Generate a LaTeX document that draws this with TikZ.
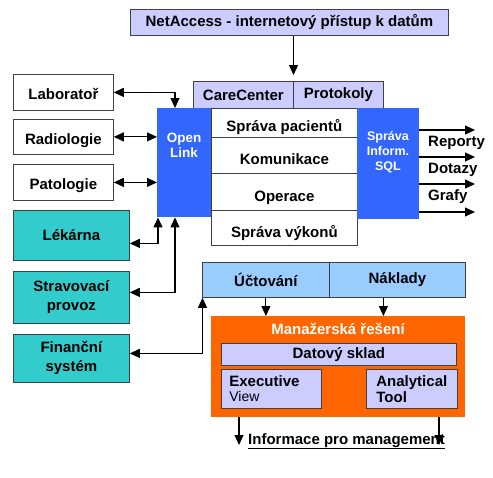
\documentclass[tikz,border=0pt]{standalone}
\usepackage{fontspec}
\setmainfont{Liberation Sans}
\usetikzlibrary{arrows.meta}
\definecolor{lav}{HTML}{CCCCFF}
\definecolor{olblue}{HTML}{3366FF}
\definecolor{teal2}{HTML}{33CCCC}
\definecolor{lblue}{HTML}{99CCFF}
\definecolor{orng}{HTML}{FF6600}
\begin{document}
\begin{tikzpicture}[x=1pt,y=-1pt,
  bx/.style={draw=black!75, line width=0.8pt, inner sep=0pt, anchor=north west,
    font=\fontsize{15}{19}\selectfont\bfseries, align=center},
  low/.style={text height=#1, text depth=0pt},
  blu/.style={fill=olblue, inner sep=0pt, anchor=north west},
  wtxt/.style={text=white, align=center, inner sep=0pt},
  lbl/.style={font=\fontsize{15}{19}\selectfont\bfseries, inner sep=0pt},
  arr/.style={line width=1.1pt, -{Triangle[length=10pt,width=9pt]}},
  darr/.style={line width=1.1pt, {Triangle[length=10pt,width=9pt]}-{Triangle[length=10pt,width=9pt]}},
]
\useasboundingbox[fill=white] (0,0) rectangle (493,477);

% top
\node[bx, fill=lav, minimum width=318pt, minimum height=26pt] (net) at (130,9) {NetAccess - internetový přístup k datům};
\node[bx, fill=lav, minimum width=100pt, minimum height=27pt] (care) at (193,81) {CareCenter};
\node[bx, fill=lav, minimum width=90pt, minimum height=27pt] (prot) at (293,81) {Protokoly};

% middle rows
\node[bx, low=18pt, fill=white, minimum width=146pt, minimum height=29pt] (r1) at (211,108) {Správa pacientů};
\node[bx, low=18.5pt, fill=white, minimum width=146pt, minimum height=36pt] (r2) at (211,137) {Komunikace};
\node[bx, low=18.5pt, fill=white, minimum width=146pt, minimum height=37pt] (r3) at (211,173) {Operace};
\node[bx, low=18.5pt, fill=white, minimum width=146pt, minimum height=35pt] (r4) at (211,210) {Správa výkonů};

% blue blocks
\node[blu, minimum width=54pt, minimum height=109pt] (ol) at (157,108) {};
\node[wtxt, font=\fontsize{13.5}{15}\selectfont\bfseries] (oltxt) at (184,145) {Open\\Link};
\node[blu, minimum width=62pt, minimum height=111pt] (sql) at (357,108) {};
\node[wtxt, font=\fontsize{12.5}{15}\selectfont\bfseries] (sqltxt) at (388,152) {Správa\\Inform.\\SQL};

% left boxes
\node[bx, low=15pt, fill=white, minimum width=100pt, minimum height=36pt] (lab) at (13,74) {Laboratoř};
\node[bx, low=15pt, fill=white, minimum width=100pt, minimum height=35pt] (rad) at (13,119) {Radiologie};
\node[bx, low=15pt, fill=white, minimum width=100pt, minimum height=36pt] (pat) at (13,164) {Patologie};
\node[bx, fill=teal2, minimum width=116pt, minimum height=50pt] (lek) at (13,210) {Lékárna};
\node[bx, fill=teal2, minimum width=116pt, minimum height=52pt] (str) at (13,271) {Stravovací\\provoz};
\node[bx, fill=teal2, minimum width=116pt, minimum height=48pt] (fin) at (13,334) {Finanční\\systém};

% accounting
\node[bx, fill=lblue, minimum width=127pt, minimum height=35pt] (uct) at (202,262) {Účtování};
\node[bx, fill=lblue, minimum width=136pt, minimum height=35pt] (nak) at (329,262) {Náklady};

% management
\node[fill=orng, inner sep=0pt, anchor=north west, minimum width=254pt, minimum height=101pt] (man) at (211,316) {};
\node[lbl, text=white] (mantxt) at (338,329) {Manažerská řešení};
\node[bx, fill=lav, minimum width=235pt, minimum height=22pt] (dat) at (221,343) {Datový sklad};
\node[bx, fill=lav, minimum width=100pt, minimum height=39pt, align=left, text width=84pt,
  font=\fontsize{15}{15}\selectfont\bfseries] (exe) at (221,369) {Executive\\{\mdseries\fontsize{14}{15}\selectfont View}};
\node[bx, fill=lav, minimum width=91pt, minimum height=39pt, align=left, text width=71pt,
  font=\fontsize{15}{16}\selectfont\bfseries] (ana) at (366,369) {Analytical\\Tool};

% output labels
\node[lbl, anchor=base west] (rep) at (428,146) {Reporty};
\node[lbl, anchor=base west] (dot) at (428,173) {Dotazy};
\node[lbl, anchor=base west] (gra) at (428,200) {Grafy};
\node[lbl, anchor=base west] (info) at (248,444) {\underline{Informace pro management}};

% coordinates
\coordinate (nt) at (293.5,75);
\coordinate (o1) at (475,130);
\coordinate (o2) at (475,157);
\coordinate (o3) at (475,184);
\coordinate (o4) at (475,212);
\coordinate (b1) at (239,445);
\coordinate (b2) at (439,445);

% connectors
\draw[arr] (nt |- net.south) -- (nt);
\draw[darr] (lab.east) -| ([xshift=18pt]ol.north west);
\draw[darr] (rad.east) -- (rad.east -| ol.west);
\draw[darr] (pat.east) -- (pat.east -| ol.west);
\draw[darr] ([yshift=-8pt]lek.east) -| ([xshift=1pt]ol.south west);
\draw[darr] ([yshift=5pt]str.east) -| ([xshift=18pt]ol.south west);
\draw[darr] ([yshift=5pt]fin.east) -| ([xshift=0.5pt]uct.south west);
\draw[arr] (sql.east |- o1) -- (o1);
\draw[arr] (sql.east |- o2) -- (o2);
\draw[arr] (sql.east |- o3) -- (o3);
\draw[arr] (sql.east |- o4) -- (o4);
\draw[arr] (uct.south) -- (uct.south |- man.north);
\draw[arr] ([xshift=-14pt]nak.south) -- ([xshift=-14pt]nak.south |- man.north);
\draw[arr] (man.south -| b1) -- (b1);
\draw[arr] (man.south -| b2) -- (b2);
\end{tikzpicture}
\end{document}
